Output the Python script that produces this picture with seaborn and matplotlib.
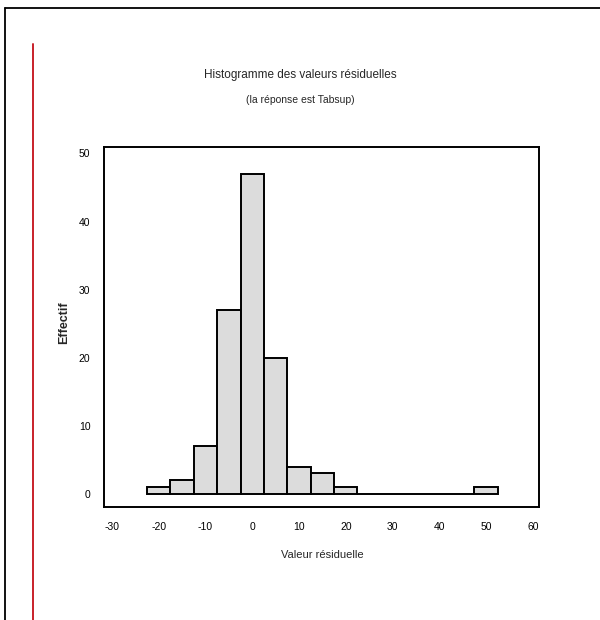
import pandas as pd
import matplotlib
matplotlib.use("Agg")
import matplotlib.pyplot as plt
from matplotlib.lines import Line2D
import seaborn as sns

# Residual histogram: bin centres and counts
bin_centers = [-20, -15, -10, -5, 0, 5, 10, 15, 20, 25, 30, 35, 40, 45, 50]
counts = [1, 2, 7, 27, 47, 20, 4, 3, 1, 0, 0, 0, 0, 0, 1]
bin_width = 5
x_ticks = [-30, -20, -10, 0, 10, 20, 30, 40, 50, 60]
y_ticks = [0, 10, 20, 30, 40, 50]

title = "Histogramme des valeurs résiduelles"
subtitle = "(la réponse est Tabsup)"
x_label = "Valeur résiduelle"
y_label = "Effectif"

df = pd.DataFrame({"residu": bin_centers, "n": counts})

sns.set_theme(style="white")
plt.rcParams["font.family"] = ["Liberation Sans Narrow", "Liberation Sans", "DejaVu Sans"]
plt.rcParams["axes.unicode_minus"] = False

fig = plt.figure(figsize=(6.0, 6.2), dpi=100)
ax = fig.add_axes([0.174, 0.1827, 0.725, 0.5807])

lo = bin_centers[0] - bin_width / 2
hi = bin_centers[-1] + bin_width / 2
sns.histplot(data=df, x="residu", weights="n", binwidth=bin_width,
             binrange=(lo, hi), ax=ax,
             color="#dcdcdc", alpha=1.0, edgecolor="black", linewidth=1.4)

ax.set_xlim(-31.6, 61.4)
ax.set_ylim(-1.9, 51)
ax.set_xticks(x_ticks)
ax.set_yticks(y_ticks)
ax.tick_params(axis="both", direction="out", length=6, width=1.3,
               colors="black", labelsize=7.5)
ax.tick_params(axis="x", pad=5)
ax.tick_params(axis="y", pad=4)
for s in ax.spines.values():
    s.set_color("black")
    s.set_linewidth(1.4)
ax.set_xlabel(x_label, fontsize=8, labelpad=13)
ax.set_ylabel("")
fig.text(0.107, 0.48, y_label, rotation=90, ha="center", va="center",
         fontsize=9, fontweight="bold")

fig.text(0.5, 0.879, title, ha="center", va="center", fontsize=8.5)
fig.text(0.5, 0.838, subtitle, ha="center", va="center", fontsize=7.5)

# page frame and red margin rule
fig.add_artist(Line2D([0.008, 0.008], [0.0, 0.987], color="black", lw=1.3,
                      transform=fig.transFigure))
fig.add_artist(Line2D([0.008, 1.0], [0.987, 0.987], color="black", lw=1.3,
                      transform=fig.transFigure))
fig.add_artist(Line2D([0.055, 0.055], [0.0, 0.929], color="#c8202a", lw=1.4,
                      transform=fig.transFigure))

fig.savefig("out.png", dpi=100, facecolor="white")
